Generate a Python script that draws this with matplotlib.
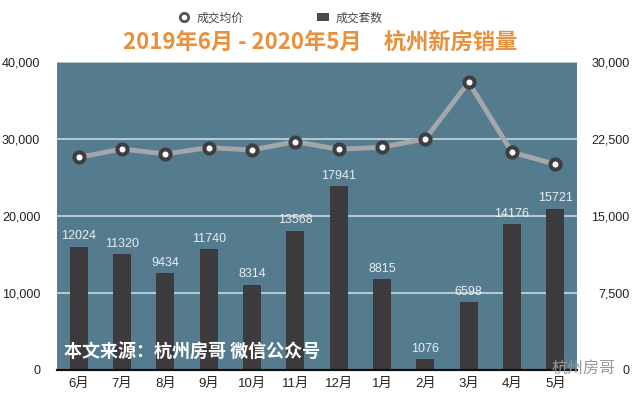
import matplotlib
matplotlib.use("Agg")
import matplotlib.pyplot as plt
from matplotlib.lines import Line2D
from matplotlib.patches import Patch
from matplotlib.ticker import FuncFormatter

plt.rcParams['font.family'] = ['Liberation Sans', 'Noto Sans CJK SC', 'DejaVu Sans']
cjk = ['Noto Sans CJK SC', 'DejaVu Sans']

months = ['6月', '7月', '8月', '9月', '10月', '11月', '12月', '1月', '2月', '3月', '4月', '5月']
deals = [12024, 11320, 9434, 11740, 8314, 13568, 17941, 8815, 1076, 6598, 14176, 15721]
avg_price = [27600, 28700, 28050, 28870, 28570, 29650, 28660, 28920, 30000, 37360, 28270, 26710]
price_ticks = [0, 10000, 20000, 30000, 40000]
deal_ticks = [0, 7500, 15000, 22500, 30000]

bg = '#557b8f'
bar_color = '#3c3a3c'
grid_color = '#c9d7dd'

fig = plt.figure(figsize=(6.4, 3.98), dpi=100)
ax = fig.add_axes([0.089, 0.0704, 0.8125, 0.774])
ax.set_facecolor(bg)
ax2 = ax.twinx()

x = range(len(months))
bars = ax.bar(x, deals, width=0.42, color=bar_color, zorder=2)
ax.bar_label(bars, labels=[str(v) for v in deals], padding=3, fontsize=9,
             color='#e6eef2')
ax.set_ylim(0, 30000)
ax.set_xlim(-0.5, len(months) - 0.5)
ax.set_yticks(deal_ticks)
ax.yaxis.tick_right()
ax.yaxis.set_major_formatter(FuncFormatter(lambda v, p: f'{int(v):,}'))
ax.grid(axis='y', color=grid_color, lw=1.2)
ax.set_axisbelow(True)
ax.set_xticks(list(x))
ax.set_xticklabels(months)

# price line on the left scale
ax2.plot(x, avg_price, color='#a3a7aa', lw=3.5, marker='o', ms=7.3,
         mfc='white', mec='#3d3e40', mew=2.9, zorder=5)
ax2.set_ylim(0, 40000)
ax2.set_yticks(price_ticks)
ax2.yaxis.tick_left()
ax2.yaxis.set_major_formatter(FuncFormatter(lambda v, p: f'{int(v):,}'))
ax2.patch.set_visible(False)

for a in (ax, ax2):
    for s in ('top', 'left', 'right'):
        a.spines[s].set_visible(False)
    a.spines['bottom'].set_color('#111111')
    a.spines['bottom'].set_linewidth(1.5)
    a.tick_params(length=0, labelsize=9, colors='#222222')
# right-hand labels are right aligned in the original
ax.tick_params(axis='y', pad=38)
for t in ax.get_yticklabels():
    t.set_ha('right')
ax2.tick_params(axis='y', pad=12)
ax.tick_params(axis='x', pad=6, labelsize=9.5)

fig.text(0.5, 0.895, '2019年6月 - 2020年5月　杭州新房销量', ha='center', va='center',
         fontsize=16, fontweight='bold', color='#e8913a', family=cjk)

handles = [Line2D([], [], marker='o', ls='none', ms=6, mfc='white', mec='#555555', mew=2),
           Patch(facecolor='#4a4a4a')]
fig.legend(handles, ['成交均价', '成交套数'], loc='center', bbox_to_anchor=(0.438, 0.955),
           ncol=2, frameon=False, columnspacing=6.2, handlelength=1.0,
           handletextpad=0.6, labelcolor='#444444', prop={'family': cjk, 'size': 8.5})

fig.text(0.1, 0.115, '本文来源：杭州房哥 微信公众号', fontsize=13, fontweight='bold',
         color='white', va='center', family=cjk)
fig.text(0.862, 0.075, '杭州房哥', fontsize=11.5, color='#999999', va='center', family=cjk)

fig.savefig('out.png', dpi=100)
